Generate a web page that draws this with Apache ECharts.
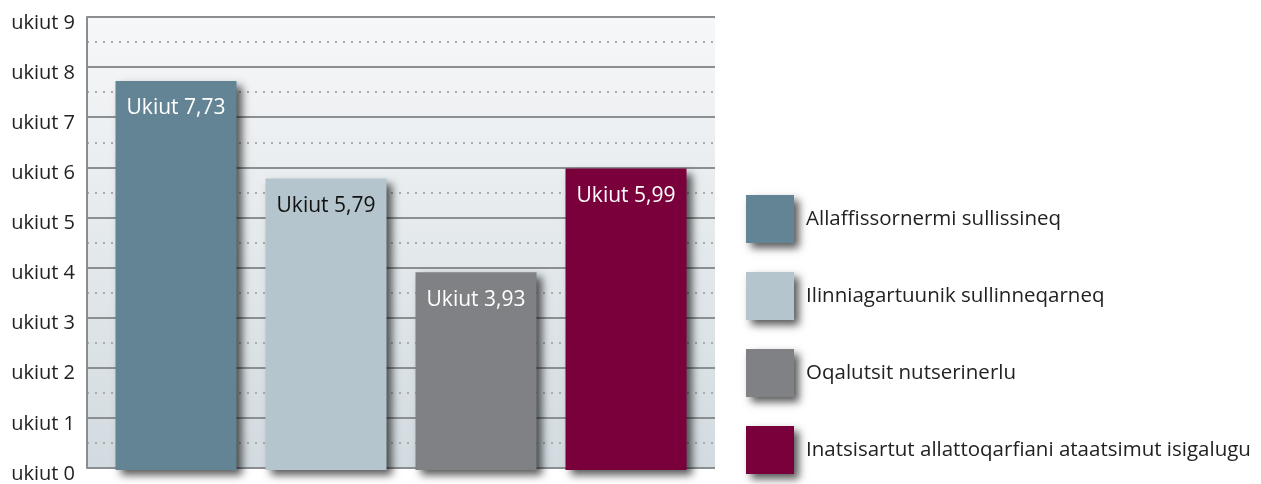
<!DOCTYPE html>
<html>
<head>
<meta charset="utf-8">
<script src="https://cdn.jsdelivr.net/npm/echarts@6/dist/echarts.min.js"></script>
<style>
  html, body { margin: 0; padding: 0; background: #fff; }
  #chart { width: 1261px; height: 484px; }
</style>
</head>
<body>
<div id="chart"></div>
<script>
const seriesNames = [
  'Allaffissornermi sullissineq',
  'Ilinniagartuunik sullinneqarneq',
  'Oqalutsit nutserinerlu',
  'Inatsisartut allattoqarfiani ataatsimut isigalugu'
]
const values = [7.73, 5.79, 3.93, 5.99]
const barColors = ['#628494', '#b4c5cd', '#808184', '#7a003c']
const labelColors = ['#ffffff', '#111111', '#ffffff', '#ffffff']
const yTicks = [0, 1, 2, 3, 4, 5, 6, 7, 8, 9]

const chart = echarts.init(document.getElementById('chart'))
const font = 'Open Sans'
const shadow = {
  shadowBlur: 8,
  shadowOffsetX: 5,
  shadowOffsetY: 5,
  shadowColor: 'rgba(0,0,0,0.65)'
}

// one series per bar so the legend gets one entry each; stacked so they sit centered
const barSeries = seriesNames.map((name, i) => ({
  name,
  type: 'bar',
  xAxisIndex: 1,
  yAxisIndex: 1,
  stack: 'all',
  barWidth: 121,
  data: values.map((v, j) => (j === i ? v : '-')),
  itemStyle: Object.assign({ color: barColors[i] }, shadow),
  label: {
    show: true,
    position: 'insideTop',
    distance: 17,
    color: labelColors[i],
    fontFamily: font,
    fontSize: 21,
    formatter: p => 'Ukiut ' + String(p.value).replace('.', ',')
  }
}))

chart.setOption({
  animation: false,
  textStyle: { fontFamily: font },
  grid: [
    {
      left: 87, right: 546, top: 17, bottom: 14,
      show: true, borderWidth: 0,
      backgroundColor: new echarts.graphic.LinearGradient(0, 0, 0, 1, [
        { offset: 0, color: '#f6f7f8' },
        { offset: 1, color: '#d2dbe0' }
      ])
    },
    { left: 101, right: 560, top: 17, bottom: 14 }
  ],
  legend: {
    orient: 'vertical',
    left: 741,
    top: 190,
    itemWidth: 48,
    itemHeight: 48,
    itemGap: 29,
    icon: 'rect',
    itemStyle: shadow,
    textStyle: { fontSize: 20.5, color: '#222', fontFamily: font, padding: [10, 0, 0, 7] },
    data: seriesNames
  },
  xAxis: [
    {
      gridIndex: 0, type: 'value', min: 0, max: 1,
      axisLine: { show: false }, axisTick: { show: false },
      axisLabel: { show: false }, splitLine: { show: false }
    },
    {
      gridIndex: 1, type: 'category', data: seriesNames,
      axisLine: { show: false }, axisTick: { show: false }, axisLabel: { show: false }
    }
  ],
  yAxis: [
    {
      gridIndex: 0, type: 'value', min: 0, max: 9, interval: 1,
      axisLine: { show: true, lineStyle: { color: '#8a8c8e', width: 2 } },
      axisTick: { show: false },
      axisLabel: {
        fontSize: 20, color: '#222', fontFamily: font, margin: 12,
        verticalAlign: 'top', lineHeight: 12,
        formatter: v => (yTicks.includes(v) ? 'ukiut ' + v : '')
      },
      splitLine: { show: true, lineStyle: { color: '#8c8f92', width: 2 } },
      minorTick: { show: false, splitNumber: 2 },
      minorSplitLine: { show: true, lineStyle: { color: '#a9acae', width: 2, type: [2, 6] } }
    },
    { gridIndex: 1, type: 'value', min: 0, max: 9, show: false }
  ],
  series: barSeries
})
</script>
</body>
</html>
